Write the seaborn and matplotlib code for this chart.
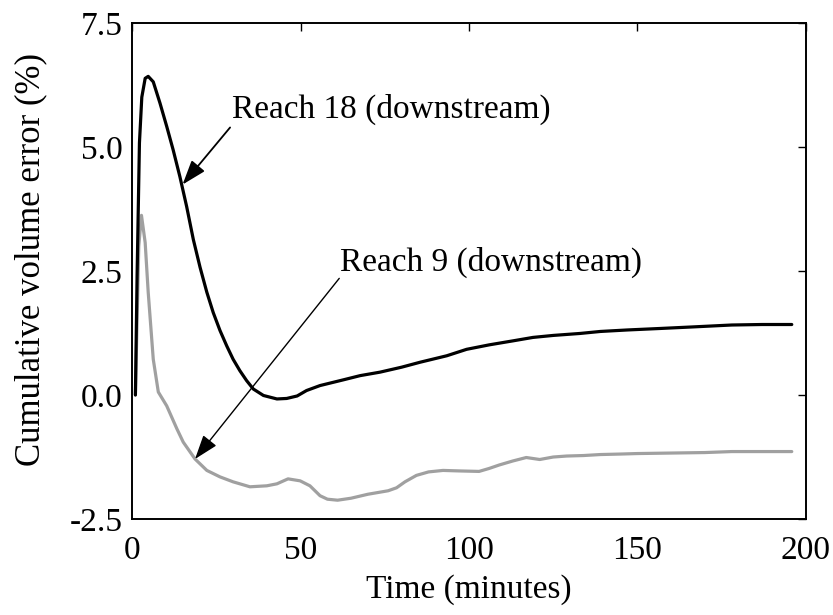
import matplotlib
matplotlib.use("Agg")
import matplotlib.pyplot as plt
import seaborn as sns
import pandas as pd

# Reach 18 (downstream) cumulative volume error
t_reach18 = [1.0, 1.5, 2.2, 2.9, 3.9, 4.8, 6.3, 8.3, 10.3, 12.2, 14.2, 16.2, 18.2, 20.2,
             22.2, 24.1, 26.1, 28.1, 30.0, 32.0, 34.0, 36.0, 39.0, 43.0, 45.9, 49.0,
             51.8, 55.8, 58.8, 63.0, 67.7, 73.6, 80.0, 85.5, 93.4, 99.3, 106.0, 113.0,
             119.0, 125.0, 133.0, 139.0, 147.0, 156.7, 166.0, 178.0, 187.0, 195.8]
v_reach18 = [0.0, 2.4, 5.08, 6.0, 6.38, 6.42, 6.31, 5.88, 5.41, 4.94, 4.40, 3.80, 3.13, 2.57,
             2.07, 1.66, 1.30, 0.99, 0.72, 0.49, 0.29, 0.12, -0.01, -0.08, -0.07, -0.02,
             0.09, 0.19, 0.24, 0.31, 0.39, 0.46, 0.56, 0.66, 0.79, 0.92, 1.01, 1.09,
             1.16, 1.20, 1.24, 1.28, 1.31, 1.34, 1.37, 1.41, 1.42, 1.42]

# Reach 9 (downstream) cumulative volume error
t_reach9 = [1.0, 2.0, 2.8, 3.9, 4.8, 6.3, 7.8, 10.3, 13.3, 15.2, 18.7, 22.2, 26.1, 30.0,
            35.0, 40.0, 43.0, 46.3, 49.9, 52.8, 55.8, 58.0, 61.0, 65.0, 70.0, 76.0,
            78.5, 81.0, 84.4, 88.0, 92.3, 97.0, 103.0, 106.0, 109.0, 113.0, 117.0,
            121.0, 125.0, 129.0, 134.0, 139.0, 145.0, 150.0, 160.0, 170.0, 178.0, 195.8]
v_reach9 = [0.0, 3.0, 3.62, 3.07, 2.07, 0.72, 0.06, -0.22, -0.68, -0.95, -1.29, -1.52,
            -1.65, -1.75, -1.85, -1.83, -1.79, -1.69, -1.73, -1.83, -2.03, -2.10, -2.12,
            -2.08, -2.00, -1.93, -1.87, -1.75, -1.62, -1.55, -1.52, -1.53, -1.54, -1.48,
            -1.41, -1.33, -1.26, -1.30, -1.25, -1.23, -1.22, -1.20, -1.19, -1.18, -1.17,
            -1.16, -1.14, -1.14]

x_ticks = [0, 50, 100, 150, 200]
y_ticks = [-2.5, 0.0, 2.5, 5.0, 7.5]
y_tick_labels = ["-2.5", "0.0", "2.5", "5.0", "7.5"]

sns.set_theme(style="white")
plt.rcParams["font.family"] = ["Liberation Serif", "DejaVu Serif"]
plt.rcParams["text.color"] = "black"
plt.rcParams["axes.labelcolor"] = "black"
plt.rcParams["xtick.color"] = "black"
plt.rcParams["ytick.color"] = "black"

fig = plt.figure(figsize=(8.33, 6.15), dpi=100)
ax = fig.add_axes([0.1585, 0.156, 0.809, 0.807])

df18 = pd.DataFrame({"t": t_reach18, "v": v_reach18})
df9 = pd.DataFrame({"t": t_reach9, "v": v_reach9})

sns.lineplot(data=df9, x="t", y="v", ax=ax, color="#a0a0a0", linewidth=2.3,
             estimator=None, sort=False)
sns.lineplot(data=df18, x="t", y="v", ax=ax, color="black", linewidth=2.3,
             estimator=None, sort=False)

ax.set_xlim(0, 200)
ax.set_ylim(-2.5, 7.5)
ax.set_xticks(x_ticks)
ax.set_xticklabels([str(v) for v in x_ticks])
ax.set_yticks(y_ticks)
ax.set_yticklabels(y_tick_labels)

ax.tick_params(axis="both", direction="in", length=6, width=1.0, top=True, right=True,
               labelsize=24, colors="black")
ax.tick_params(axis="x", pad=12)
ax.tick_params(axis="y", pad=7)
for s in ax.spines.values():
    s.set_color("black")
    s.set_linewidth(1.4)

ax.set_xlabel("Time (minutes)", fontsize=24, labelpad=6)
ax.set_ylabel("Cumulative volume error (%)", fontsize=25)
ax.yaxis.set_label_coords(-0.126, 0.522)

# Series labels with pointer arrows
ax.text(29.6, 5.58, "Reach 18 (downstream)", fontsize=24, ha="left", va="baseline")
ax.annotate("", xy=(15.0, 4.24), xytext=(29.1, 5.39),
            arrowprops=dict(arrowstyle="-|>,head_length=0.75,head_width=0.26",
                            color="black", lw=1.3, mutation_scale=20,
                            shrinkA=0, shrinkB=0))
ax.text(61.7, 2.50, "Reach 9 (downstream)", fontsize=24, ha="left", va="baseline")
ax.annotate("", xy=(18.7, -1.29), xytext=(61.5, 2.35),
            arrowprops=dict(arrowstyle="-|>,head_length=0.75,head_width=0.26",
                            color="black", lw=1.0, mutation_scale=20,
                            shrinkA=0, shrinkB=0))

fig.savefig("out.png", dpi=100)
